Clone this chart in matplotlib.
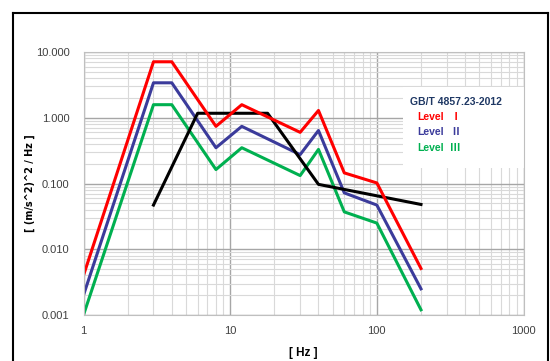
import matplotlib
matplotlib.use("Agg")
import matplotlib.pyplot as plt
from matplotlib import font_manager
from matplotlib.lines import Line2D
from matplotlib.patches import Rectangle
from matplotlib.ticker import FixedLocator, LogLocator, NullFormatter

# Data
freq_levels = [1, 3, 4, 8, 12, 30, 40, 60, 100, 200]
level_1 = [0.004, 7.1, 7.1, 0.74, 1.58, 0.60, 1.29, 0.145, 0.102, 0.0051]
level_2 = [0.002, 3.4, 3.4, 0.35, 0.74, 0.275, 0.64, 0.072, 0.047, 0.0025]
level_3 = [0.001, 1.58, 1.58, 0.163, 0.35, 0.132, 0.33, 0.037, 0.025, 0.0012]

freq_black = [3, 6, 18, 40, 200]
black_psd = [0.047, 1.17, 1.17, 0.097, 0.048]

x_ticks = [1, 10, 100, 1000]
x_tick_labels = ["1", "10", "100", "1000"]
y_ticks = [0.001, 0.01, 0.1, 1, 10]
y_tick_labels = ["0.001", "0.010", "0.100", "1.000", "10.000"]

legend_title = "GB/T 4857.23-2012"
legend_words = ["Level", "Level", "Level"]
legend_numerals = ["\u2160", "\u2161", "\u2162"]
legend_colors = ["#ff0000", "#3b3b9b", "#00b050"]

# narrow font if present
installed = {f.name for f in font_manager.fontManager.ttflist}
narrow = "Liberation Sans Narrow" if "Liberation Sans Narrow" in installed else "Liberation Sans"
fam = [narrow, "Noto Sans CJK JP", "DejaVu Sans"]
cjk = ["Noto Sans CJK JP", "DejaVu Sans"]

fig = plt.figure(figsize=(5.5, 3.61), dpi=100)
ax = fig.add_axes([83.5 / 550, 1 - 315 / 361, 440 / 550, 263 / 361])

# outer black frame (bottom runs off the picture)
for xs, ys in [([13 / 550, 13 / 550], [0, 1 - 13 / 361]),
               ([13 / 550, 548 / 550], [1 - 13 / 361, 1 - 13 / 361]),
               ([548 / 550, 548 / 550], [0, 1 - 13 / 361])]:
    fig.add_artist(Line2D(xs, ys, color="black", lw=1.5, transform=fig.transFigure))

ax.set_xscale("log")
ax.set_yscale("log")
ax.set_xlim(1, 1000)
ax.set_ylim(0.001, 10)

ax.xaxis.set_major_locator(FixedLocator(x_ticks))
ax.set_xticklabels(x_tick_labels)
ax.yaxis.set_major_locator(FixedLocator(y_ticks))
ax.set_yticklabels(y_tick_labels)
ax.xaxis.set_minor_locator(LogLocator(base=10, subs=range(2, 10)))
ax.yaxis.set_minor_locator(LogLocator(base=10, subs=range(2, 10)))
ax.xaxis.set_minor_formatter(NullFormatter())
ax.yaxis.set_minor_formatter(NullFormatter())

ax.grid(which="major", color="#a6a6a6", lw=1.0)
ax.grid(which="minor", color="#d9d9d9", lw=0.8)
ax.set_axisbelow(True)
ax.tick_params(which="both", length=0, labelsize=8, colors="#404040")
ax.tick_params(axis="y", pad=10)
ax.tick_params(axis="x", pad=8)
for lab in ax.get_xticklabels() + ax.get_yticklabels():
    lab.set_family(fam)
for sp in ax.spines.values():
    sp.set_color("#bfbfbf")
    sp.set_linewidth(0.8)

ax.plot(freq_levels, level_3, color=legend_colors[2], lw=2.2)
ax.plot(freq_levels, level_2, color=legend_colors[1], lw=2.2)
ax.plot(freq_black, black_psd, color="black", lw=2.2)
ax.plot(freq_levels, level_1, color=legend_colors[0], lw=2.2)

# white legend panel
ax.add_patch(Rectangle((0.726, 0.559), 0.28, 0.308, transform=ax.transAxes,
                       facecolor="white", edgecolor="none", zorder=1.5))
ax.text(0.742, 0.810, legend_title, transform=ax.transAxes, color="#1f3864",
        fontsize=7.5, fontweight="bold", va="center", ha="left", family=fam, zorder=3)
for i, (word, num, col) in enumerate(zip(legend_words, legend_numerals, legend_colors)):
    y = 0.753 - i * 0.059
    ax.text(0.758, y, word, transform=ax.transAxes, color=col,
            fontsize=7.5, fontweight="bold", va="center", ha="left", family=fam, zorder=3)
    ax.text(0.834, y, num, transform=ax.transAxes, color=col,
            fontsize=7.5, fontweight="bold", va="center", ha="left", family=cjk, zorder=3)

ax.set_ylabel("[ (m/s^2)^2 / Hz ]", fontsize=7, fontweight="bold")
ax.yaxis.set_label_coords(-(83.5 - 35) / 440, 0.5)
ax.set_xlabel("[ Hz ]", fontsize=8.5, fontweight="bold", family=fam, va="center")
ax.xaxis.set_label_coords((303.5 - 83.5) / 440, -(353 - 315) / 263)

plt.savefig("out.png", dpi=100)
